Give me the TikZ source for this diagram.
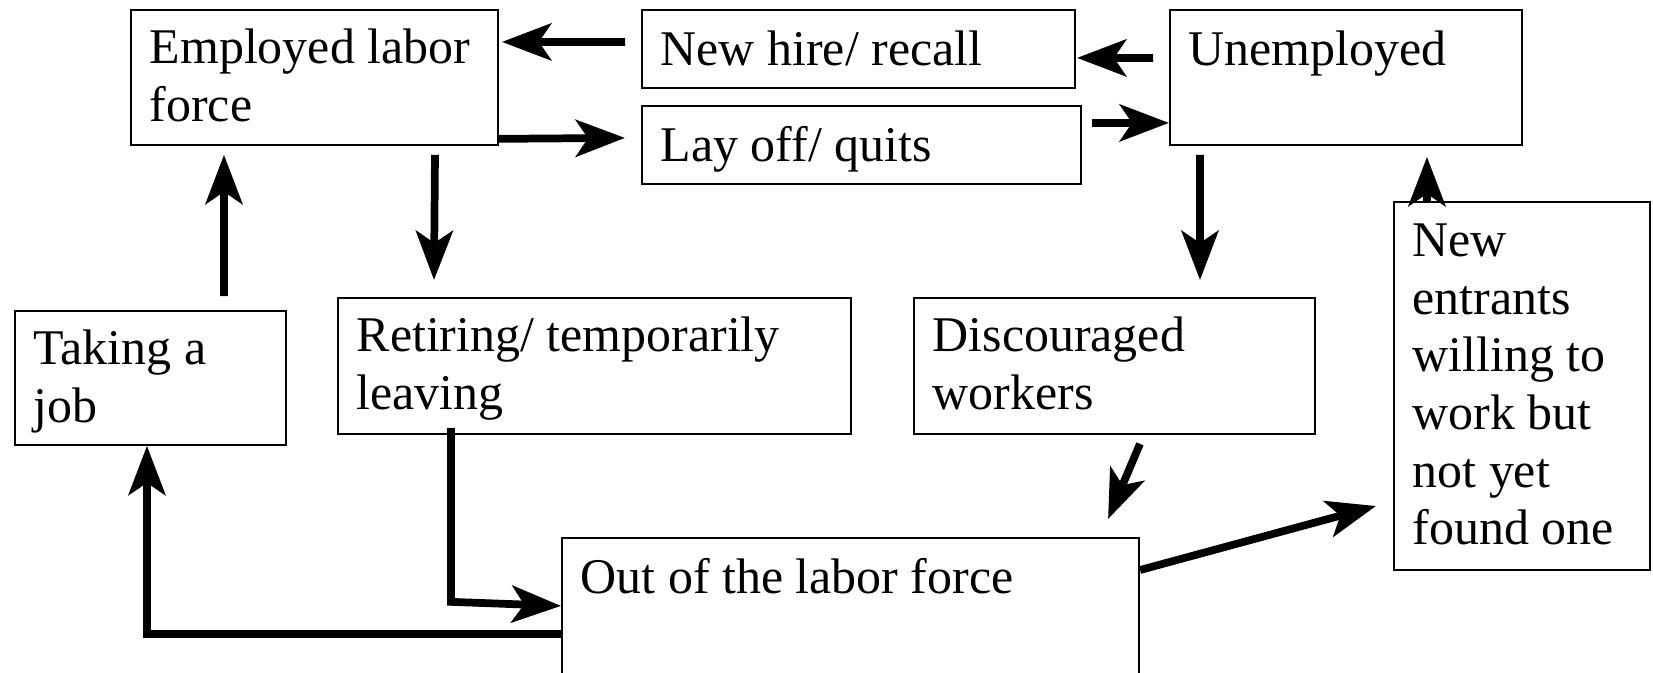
\documentclass[tikz,border=0pt]{standalone}
\usepackage{fontspec}
\setmainfont{Liberation Serif}
\usetikzlibrary{arrows.meta}

\begin{document}
\begin{tikzpicture}[x=0.01cm,y=-0.01cm,
    frame/.style={draw,line width=0.5pt,anchor=north west,inner sep=0pt},
    lbl/.style={anchor=north west,align=left,inner sep=0pt,
      font=\fontsize{14.2pt}{16.4pt}\selectfont,
      execute at begin node={\rule{0pt}{10.5pt}}},
    flow/.style={line width=2.2pt,
      -{Stealth[length=14pt,width=10.5pt,inset=3.5pt]}}]
  \useasboundingbox (0,0) rectangle (1653,672);

  \node (emp) [frame,minimum width=3.67cm,minimum height=1.35cm] at (130,9) {};
  \node (hire) [frame,minimum width=4.33cm,minimum height=0.78cm] at (641,9) {};
  \node (lay) [frame,minimum width=4.39cm,minimum height=0.78cm] at (641,105) {};
  \node (unemp) [frame,minimum width=3.52cm,minimum height=1.35cm] at (1169,9) {};
  \node (take) [frame,minimum width=2.71cm,minimum height=1.34cm] at (14,310) {};
  \node (ret) [frame,minimum width=5.13cm,minimum height=1.36cm] at (337,297) {};
  \node (disc) [frame,minimum width=4.01cm,minimum height=1.36cm] at (913,297) {};
  \node (newent) [frame,minimum width=2.56cm,minimum height=3.68cm] at (1393,201) {};
  \node (out) [frame,minimum width=5.77cm,minimum height=1.40cm] at (561,537) {};

  \path (emp.north west) +(19,19) node (empt) [lbl] {Employed labor\\force};
  \path (hire.north west) +(19,19) node (hiret) [lbl] {New hire/ recall};
  \path (lay.north west) +(19,19) node (layt) [lbl] {Lay off/ quits};
  \path (unemp.north west) +(19,19) node (unempt) [lbl] {Unemployed};
  \path (take.north west) +(19,19) node (taket) [lbl] {Taking a\\job};
  \path (ret.north west) +(19,19) node (rett) [lbl] {Retiring/ temporarily\\leaving};
  \path (disc.north west) +(19,19) node (disct) [lbl] {Discouraged\\workers};
  \path (newent.north west) +(19,22) node (newentt) [lbl]
    {New\\entrants\\willing to\\work but\\not yet\\found one};
  \path (out.north west) +(19,19) node (outt) [lbl] {Out of the labor force};

  \path (node cs:name=hire,anchor=west) +(-16,-7) coordinate (hireo);
  \path (node cs:name=emp,anchor=east) +(3,-35.5) coordinate (empi);
  \draw[flow] (hireo) -- (empi);
  \path (node cs:name=unemp,anchor=west) +(-16,-19.5) coordinate (unempo);
  \path (node cs:name=hire,anchor=east) +(1,9) coordinate (hirei);
  \draw[flow] (unempo) -- (hirei);
  \path (node cs:name=emp,anchor=south east) +(0,-7) coordinate (empo);
  \path (node cs:name=lay,anchor=west) +(-16,-7) coordinate (layi);
  \draw[flow] (empo) -- (layi);
  \path (node cs:name=lay,anchor=east) +(10,-22) coordinate (layo);
  \path (node cs:name=unemp,anchor=west) +(0,45.5) coordinate (unempi);
  \draw[flow] (layo) -- (unempi);

  \path (node cs:name=emp,anchor=south) +(120.5,9) coordinate (empd);
  \path (node cs:name=ret,anchor=north west) +(97,-17) coordinate (reti);
  \draw[flow] (empd) -- (reti);
  \path (node cs:name=take,anchor=north) +(73.5,-14) coordinate (takeo);
  \path (node cs:name=emp,anchor=south) +(-90.5,9) coordinate (empu);
  \draw[flow] (takeo) -- (empu);
  \path (node cs:name=unemp,anchor=south) +(-146,9) coordinate (unempd);
  \path (node cs:name=disc,anchor=north) +(85.5,-17) coordinate (disci);
  \draw[flow] (unempd) -- (disci);
  \path (node cs:name=newent,anchor=north) +(-95,0) coordinate (newento);
  \path (node cs:name=unemp,anchor=south) +(81,11) coordinate (unempu);
  \draw[flow] (newento) -- (unempu);

  \path (node cs:name=disc,anchor=south) +(25.5,9) coordinate (disco);
  \path (node cs:name=out,anchor=north east) +(-32,-18) coordinate (outd);
  \draw[flow] (disco) -- (outd);
  \path (node cs:name=ret,anchor=south) +(-143.5,-7) coordinate (reto);
  \path (reto) +(0,174) coordinate (retc);
  \path (node cs:name=out,anchor=west) +(0,-2) coordinate (outi);
  \draw[flow] (reto) -- (retc) -- (outi);
  \path (node cs:name=out,anchor=west) +(0,26) coordinate (outo);
  \path (node cs:name=take,anchor=south) +(-3.5,0) coordinate (takei);
  \draw[flow] (outo) -| (takei);
  \path (node cs:name=out,anchor=north east) +(0,33) coordinate (outr);
  \path (node cs:name=newent,anchor=west) +(-17,120) coordinate (newenti);
  \draw[flow] (outr) -- (newenti);
\end{tikzpicture}
\end{document}
